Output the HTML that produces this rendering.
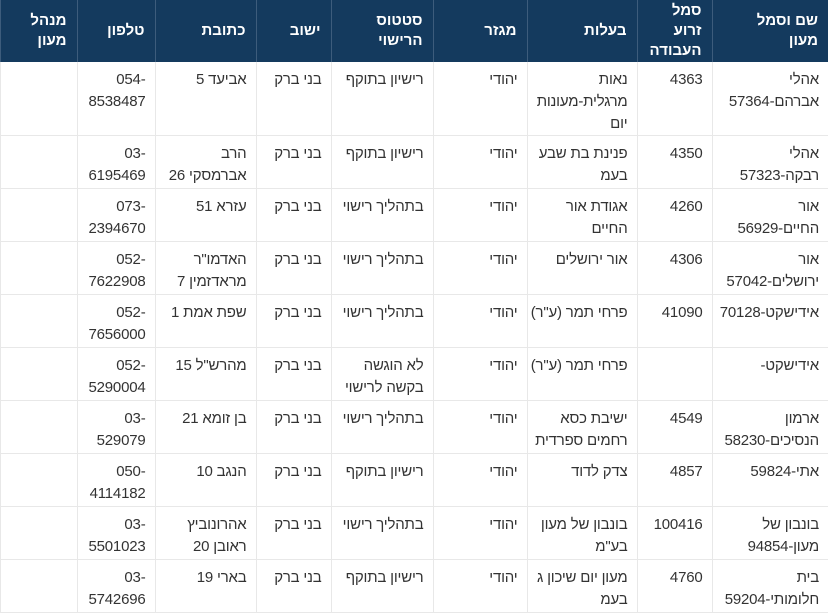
<!DOCTYPE html>
<html dir="rtl"><head><meta charset="utf-8"><style>
body{margin:0;width:828px;height:612px;overflow:hidden;background:#fff;font-family:"Liberation Sans","Noto Sans CJK JP",sans-serif;}
table{border-collapse:collapse;table-layout:fixed;width:828px;direction:rtl;}
th{background:#143a5e;color:#fff;font-size:15px;font-weight:bold;text-align:right;vertical-align:middle;padding:0 10px 0 2px;height:62px;line-height:20px;border-left:1px solid #3d5c7c;}
td{font-size:15px;color:#333;text-align:right;vertical-align:top;padding:7px 9px 0 1px;line-height:22px;border-left:1px solid #e8e8e8;border-bottom:1px solid #e8e8e8;height:45px;letter-spacing:-0.2px;}
tr.f td{height:65px;}
</style></head><body>
<table>
<colgroup><col style="width:116px"><col style="width:75px"><col style="width:110px"><col style="width:94px"><col style="width:102px"><col style="width:75px"><col style="width:101px"><col style="width:78px"><col style="width:77px"></colgroup>
<tr><th>שם וסמל<br>מעון</th><th>סמל<br>זרוע<br>העבודה</th><th>בעלות</th><th>מגזר</th><th>סטטוס<br>הרישוי</th><th>ישוב</th><th>כתובת</th><th>טלפון</th><th>מנהל<br>מעון</th></tr>
<tr class="f"><td>אהלי אברהם-57364</td><td>4363</td><td>נאות מרגלית-מעונות יום</td><td>יהודי</td><td>רישיון בתוקף</td><td>בני ברק</td><td>אביעד 5</td><td>054-8538487</td><td></td></tr>
<tr><td>אהלי רבקה-57323</td><td>4350</td><td>פנינת בת שבע בעמ</td><td>יהודי</td><td>רישיון בתוקף</td><td>בני ברק</td><td>הרב<br>אברמסקי 26</td><td>03-6195469</td><td></td></tr>
<tr><td>אור החיים-56929</td><td>4260</td><td>אגודת אור החיים</td><td>יהודי</td><td>בתהליך רישוי</td><td>בני ברק</td><td>עזרא 51</td><td>073-2394670</td><td></td></tr>
<tr><td>אור ירושלים-57042</td><td>4306</td><td>אור ירושלים</td><td>יהודי</td><td>בתהליך רישוי</td><td>בני ברק</td><td>האדמו"ר מראדזמין 7</td><td>052-7622908</td><td></td></tr>
<tr><td>אידישקט-70128</td><td>41090</td><td style="white-space:nowrap">פרחי תמר (ע"ר)</td><td>יהודי</td><td>בתהליך רישוי</td><td>בני ברק</td><td>שפת אמת 1</td><td>052-7656000</td><td></td></tr>
<tr><td>אידישקט-</td><td></td><td style="white-space:nowrap">פרחי תמר (ע"ר)</td><td>יהודי</td><td>לא הוגשה בקשה לרישוי</td><td>בני ברק</td><td>מהרש"ל 15</td><td>052-5290004</td><td></td></tr>
<tr><td>ארמון הנסיכים-58230</td><td>4549</td><td>ישיבת כסא רחמים ספרדית</td><td>יהודי</td><td>בתהליך רישוי</td><td>בני ברק</td><td>בן זומא 21</td><td>03-529079</td><td></td></tr>
<tr><td>אתי-59824</td><td>4857</td><td>צדק לדוד</td><td>יהודי</td><td>רישיון בתוקף</td><td>בני ברק</td><td>הנגב 10</td><td>050-4114182</td><td></td></tr>
<tr><td>בונבון של מעון-94854</td><td>100416</td><td>בונבון של מעון בע"מ</td><td>יהודי</td><td>בתהליך רישוי</td><td>בני ברק</td><td>אהרונוביץ ראובן 20</td><td>03-5501023</td><td></td></tr>
<tr><td>בית חלומותי-59204</td><td>4760</td><td>מעון יום שיכון ג בעמ</td><td>יהודי</td><td>רישיון בתוקף</td><td>בני ברק</td><td>בארי 19</td><td>03-5742696</td><td></td></tr>
</table>
</body></html>
